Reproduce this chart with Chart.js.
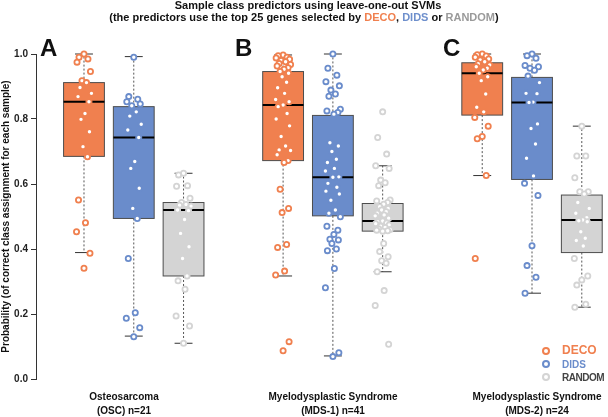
<!DOCTYPE html>
<html>
<head>
<meta charset="utf-8">
<script src="https://cdn.jsdelivr.net/npm/chart.js@4"></script>
<style>
  body { margin: 0; background: #fff; }
  #wrap { position: relative; width: 608px; height: 417px; font-family: "Liberation Sans", Arial, sans-serif; color: #111; }
  #grafico { position: absolute; left: 0; top: 0; }
  .txt { position: absolute; font-weight: bold; white-space: nowrap; }
  .t1 { font-size: 11px; top: -1px; left: 108px; width: 400px; text-align: center; }
  .t2 { font-size: 11px; top: 11px; left: 104px; width: 400px; text-align: center; }
  .letra { font-size: 24px; top: 34px; }
  .xl { font-size: 10px; text-align: center; width: 160px; line-height: 14px; top: 390px; }
  .leg { font-size: 10px; left: 562px; line-height: 13px; }
  .dot { position: absolute; width: 4px; height: 4px; border-radius: 50%; border: 2px solid; left: 542px; }
</style>
</head>
<body>
<div id="wrap">
  <canvas id="grafico" width="608" height="417"></canvas>
  <div class="txt t1">Sample class predictors using leave-one-out SVMs</div>
  <div class="txt t2">(the predictors use the top 25 genes selected by <span style="color:#f0804f">DECO</span>, <span style="color:#6e8fcc">DIDS</span> or <span style="color:#9a9a9a">RANDOM</span>)</div>
  <div class="txt letra" style="left:40px">A</div>
  <div class="txt letra" style="left:235px">B</div>
  <div class="txt letra" style="left:443px">C</div>
  <div class="txt xl" style="left:44px">Osteosarcoma<br>(OSC) n=21</div>
  <div class="txt xl" style="left:253px">Myelodysplastic Syndrome<br>(MDS-1) n=41</div>
  <div class="txt xl" style="left:457px">Myelodysplastic Syndrome<br>(MDS-2) n=24</div>
  <div class="dot" style="top:347px;border-color:#f0804f"></div>
  <div class="dot" style="top:360px;border-color:#6a8ccb"></div>
  <div class="dot" style="top:373px;border-color:#d4d4d4"></div>
  <div class="txt leg" style="top:344px;color:#f0804f;font-size:12px">DECO</div>
  <div class="txt leg" style="top:358px;color:#6a8ccb">DIDS</div>
  <div class="txt leg" style="top:371px;color:#444;letter-spacing:-0.5px">RANDOM</div>
</div>
<script>
const paneles = ['OSC', 'MDS-1', 'MDS-2'];
const metodos = ['DECO', 'DIDS', 'RANDOM'];
const colores = ['#f0804f', '#6a8ccb', '#d4d4d4'];

// estadisticos de cada caja, orden: OSC(DECO,DIDS,RANDOM), MDS-1(...), MDS-2(...)
const q1       = [0.685, 0.494, 0.317, 0.672, 0.502, 0.455, 0.812, 0.614, 0.389];
const mediana  = [0.853, 0.743, 0.520, 0.843, 0.621, 0.486, 0.941, 0.851, 0.489];
const q3       = [0.912, 0.838, 0.543, 0.946, 0.811, 0.540, 0.973, 0.928, 0.566];
const bigoteLo = [0.389, 0.132, 0.110, 0.317, 0.071, 0.330, 0.626, 0.264, 0.221];
const bigoteHi = [1.000, 0.992, 0.633, 0.997, 1.000, 0.656, 1.000, 1.000, 0.778];

// probabilidades por muestra
const decoOSC = [1.0, 0.99, 0.985, 0.975, 0.946, 0.918, 0.912, 0.897, 0.879, 0.869, 0.853, 0.817, 0.799, 0.761, 0.715, 0.684, 0.551, 0.481, 0.453, 0.387, 0.341];
const didsOSC = [0.99, 0.869, 0.861, 0.853, 0.846, 0.841, 0.822, 0.809, 0.784, 0.766, 0.743, 0.669, 0.648, 0.587, 0.525, 0.494, 0.371, 0.204, 0.187, 0.158, 0.130];
const randomOSC = [0.633, 0.628, 0.595, 0.593, 0.556, 0.543, 0.537, 0.535, 0.532, 0.520, 0.518, 0.491, 0.448, 0.407, 0.371, 0.317, 0.302, 0.276, 0.194, 0.163, 0.110];
const decoMDS1 = [0.997, 0.995, 0.99, 0.988, 0.984, 0.98, 0.976, 0.971, 0.968, 0.963, 0.958, 0.953, 0.946, 0.941, 0.93, 0.913, 0.896, 0.879, 0.86, 0.853, 0.843,
  0.838, 0.817, 0.80, 0.779, 0.746, 0.717, 0.705, 0.703, 0.69, 0.672, 0.666, 0.584, 0.525, 0.512, 0.414, 0.405, 0.332, 0.320, 0.115, 0.087];
const didsMDS1 = [1.0, 0.956, 0.935, 0.915, 0.902, 0.889, 0.877, 0.87, 0.830, 0.825, 0.82, 0.815, 0.727, 0.717, 0.70, 0.676, 0.666, 0.648, 0.64, 0.622, 0.621,
  0.602, 0.59, 0.578, 0.569, 0.55, 0.520, 0.51, 0.499, 0.47, 0.458, 0.445, 0.43, 0.428, 0.417, 0.40, 0.395, 0.340, 0.281, 0.081, 0.069];
const randomMDS1 = [0.822, 0.743, 0.692, 0.656, 0.648, 0.612, 0.604, 0.595, 0.551, 0.548, 0.543, 0.538, 0.530, 0.525, 0.52, 0.515, 0.51, 0.505, 0.502, 0.495, 0.486,
  0.484, 0.48, 0.478, 0.474, 0.47, 0.466, 0.462, 0.46, 0.458, 0.456, 0.417, 0.392, 0.376, 0.364, 0.356, 0.330, 0.272, 0.226, 0.107, 0.455];
const decoMDS2 = [1.0, 0.998, 0.994, 0.99, 0.985, 0.982, 0.976, 0.97, 0.966, 0.961, 0.956, 0.951, 0.941, 0.930, 0.918, 0.877, 0.836, 0.822, 0.805, 0.778, 0.746, 0.739, 0.626, 0.371];
const didsMDS2 = [1.0, 0.995, 0.987, 0.965, 0.961, 0.956, 0.95, 0.932, 0.912, 0.879, 0.878, 0.852, 0.851, 0.785, 0.771, 0.723, 0.679, 0.625, 0.602, 0.565, 0.410, 0.349, 0.313, 0.264];
const randomMDS2 = [0.778, 0.686, 0.686, 0.619, 0.576, 0.576, 0.569, 0.543, 0.525, 0.510, 0.496, 0.489, 0.487, 0.484, 0.453, 0.433, 0.426, 0.409, 0.371, 0.317, 0.305, 0.289, 0.230, 0.221];

const muestras = [
  [decoOSC, didsOSC, randomOSC],
  [decoMDS1, didsMDS1, randomMDS1],
  [decoMDS2, didsMDS2, randomMDS2]
];

// posicion en x de cada caja: un hueco entre paneles
const posicion = (p, m) => p * 4 + m + 1;
const jit = [0, -0.1, 0.08, -0.14, 0.13, -0.04, 0.05, -0.08, 0.15, -0.12, 0.1, 0.02, -0.06, 0.11, -0.02, 0.07, -0.11, 0.03, -0.15, 0.12];

const datasets = metodos.map((m, mi) => ({
  label: m,
  data: paneles.flatMap((p, pi) => muestras[pi][mi].map((v, i) => ({ x: posicion(pi, mi) + jit[i % jit.length], y: v }))),
  pointRadius: 2.6,
  pointBorderWidth: 1.8,
  pointBackgroundColor: '#ffffff',
  pointBorderColor: colores[mi],
  showLine: false,
  clip: false
}));

const cajas = {
  id: 'cajas',
  beforeDatasetsDraw(chart) {
    const ctx = chart.ctx, xs = chart.scales.x, ys = chart.scales.y;
    ctx.save();
    paneles.forEach((p, pi) => metodos.forEach((m, mi) => {
      const k = pi * 3 + mi;
      const c = posicion(pi, mi);
      const xc = xs.getPixelForValue(c);
      const xl = xs.getPixelForValue(c - 0.41), xr = xs.getPixelForValue(c + 0.41);
      const cl = xs.getPixelForValue(c - 0.18), cr = xs.getPixelForValue(c + 0.18);
      const yq1 = ys.getPixelForValue(q1[k]), yq3 = ys.getPixelForValue(q3[k]);
      const ym = ys.getPixelForValue(mediana[k]);
      const ylo = ys.getPixelForValue(bigoteLo[k]), yhi = ys.getPixelForValue(bigoteHi[k]);
      // bigotes
      ctx.strokeStyle = '#555';
      ctx.lineWidth = 1;
      ctx.setLineDash([2, 2]);
      ctx.beginPath();
      ctx.moveTo(xc, yq3); ctx.lineTo(xc, yhi);
      ctx.moveTo(xc, yq1); ctx.lineTo(xc, ylo);
      ctx.stroke();
      ctx.setLineDash([]);
      ctx.strokeStyle = '#333';
      ctx.beginPath();
      ctx.moveTo(cl, yhi); ctx.lineTo(cr, yhi);
      ctx.moveTo(cl, ylo); ctx.lineTo(cr, ylo);
      ctx.stroke();
      // caja
      ctx.fillStyle = colores[mi];
      ctx.fillRect(xl, yq3, xr - xl, yq1 - yq3);
      ctx.strokeStyle = '#4d4d4d';
      ctx.strokeRect(xl, yq3, xr - xl, yq1 - yq3);
      ctx.strokeStyle = '#000';
      ctx.lineWidth = 2;
      ctx.beginPath();
      ctx.moveTo(xl, ym); ctx.lineTo(xr, ym);
      ctx.stroke();
    }));
    ctx.restore();
  }
};

const fuente = { family: 'Liberation Sans', weight: 'bold', size: 10 };

new Chart(document.getElementById('grafico').getContext('2d'), {
  type: 'scatter',
  data: { datasets: datasets },
  options: {
    responsive: false,
    animation: false,
    layout: { padding: { top: 54, bottom: 38, left: 0, right: 0 } },
    plugins: { legend: { display: false }, tooltip: { enabled: false } },
    scales: {
      x: { type: 'linear', min: 0.036, max: 11.41, display: false },
      y: {
        min: 0, max: 1,
        ticks: { stepSize: 0.2, callback: v => v.toFixed(1), color: '#222', font: fuente, padding: 3 },
        grid: { drawOnChartArea: false, drawTicks: true, tickLength: 5, color: '#333' },
        border: { color: '#333', width: 1 },
        title: { display: true, text: 'Probability (of correct class assignment for each sample)', color: '#111', font: fuente, padding: 0 },
        afterFit: s => { s.width = 36; }
      }
    }
  },
  plugins: [cajas]
});
</script>
</body>
</html>
